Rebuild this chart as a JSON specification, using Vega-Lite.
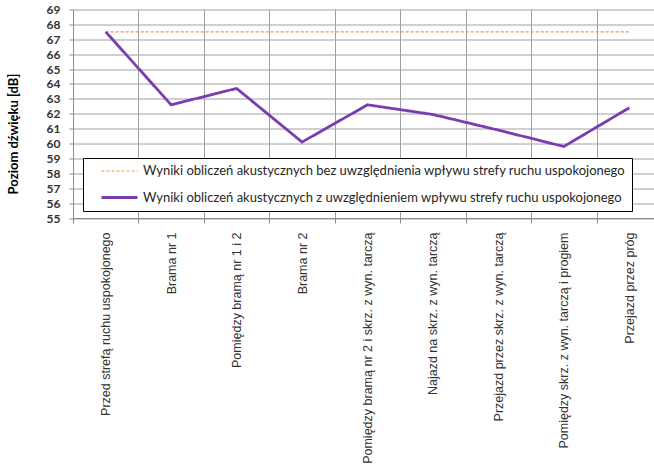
{
  "$schema": "https://vega.github.io/schema/vega-lite/v6.json",
  "width": 581,
  "height": 208.5,
  "autosize": "none",
  "padding": {"left": 73, "top": 9.5, "right": 0, "bottom": 250},
  "background": "white",
  "config": {"view": {"stroke": null}},
  "data": {
    "values": [
      {"punkt": "Przed strefą ruchu uspokojonego", "seria": "Wyniki obliczeń akustycznych bez uwzględnienia wpływu strefy ruchu uspokojonego", "poziom": 67.5},
      {"punkt": "Brama nr 1", "seria": "Wyniki obliczeń akustycznych bez uwzględnienia wpływu strefy ruchu uspokojonego", "poziom": 67.5},
      {"punkt": "Pomiędzy bramą nr 1 i 2", "seria": "Wyniki obliczeń akustycznych bez uwzględnienia wpływu strefy ruchu uspokojonego", "poziom": 67.5},
      {"punkt": "Brama nr 2", "seria": "Wyniki obliczeń akustycznych bez uwzględnienia wpływu strefy ruchu uspokojonego", "poziom": 67.5},
      {"punkt": "Pomiędzy bramą nr 2 i skrz. z wyn. tarczą", "seria": "Wyniki obliczeń akustycznych bez uwzględnienia wpływu strefy ruchu uspokojonego", "poziom": 67.5},
      {"punkt": "Najazd na skrz. z wyn. tarczą", "seria": "Wyniki obliczeń akustycznych bez uwzględnienia wpływu strefy ruchu uspokojonego", "poziom": 67.5},
      {"punkt": "Przejazd przez skrz. z wyn. tarczą", "seria": "Wyniki obliczeń akustycznych bez uwzględnienia wpływu strefy ruchu uspokojonego", "poziom": 67.5},
      {"punkt": "Pomiędzy skrz. z wyn. tarczą i progiem", "seria": "Wyniki obliczeń akustycznych bez uwzględnienia wpływu strefy ruchu uspokojonego", "poziom": 67.5},
      {"punkt": "Przejazd przez próg", "seria": "Wyniki obliczeń akustycznych bez uwzględnienia wpływu strefy ruchu uspokojonego", "poziom": 67.5},
      {"punkt": "Przed strefą ruchu uspokojonego", "seria": "Wyniki obliczeń akustycznych z uwzględnieniem wpływu strefy ruchu uspokojonego", "poziom": 67.5},
      {"punkt": "Brama nr 1", "seria": "Wyniki obliczeń akustycznych z uwzględnieniem wpływu strefy ruchu uspokojonego", "poziom": 62.6},
      {"punkt": "Pomiędzy bramą nr 1 i 2", "seria": "Wyniki obliczeń akustycznych z uwzględnieniem wpływu strefy ruchu uspokojonego", "poziom": 63.7},
      {"punkt": "Brama nr 2", "seria": "Wyniki obliczeń akustycznych z uwzględnieniem wpływu strefy ruchu uspokojonego", "poziom": 60.1},
      {"punkt": "Pomiędzy bramą nr 2 i skrz. z wyn. tarczą", "seria": "Wyniki obliczeń akustycznych z uwzględnieniem wpływu strefy ruchu uspokojonego", "poziom": 62.6},
      {"punkt": "Najazd na skrz. z wyn. tarczą", "seria": "Wyniki obliczeń akustycznych z uwzględnieniem wpływu strefy ruchu uspokojonego", "poziom": 61.95},
      {"punkt": "Przejazd przez skrz. z wyn. tarczą", "seria": "Wyniki obliczeń akustycznych z uwzględnieniem wpływu strefy ruchu uspokojonego", "poziom": 60.9},
      {"punkt": "Pomiędzy skrz. z wyn. tarczą i progiem", "seria": "Wyniki obliczeń akustycznych z uwzględnieniem wpływu strefy ruchu uspokojonego", "poziom": 59.8},
      {"punkt": "Przejazd przez próg", "seria": "Wyniki obliczeń akustycznych z uwzględnieniem wpływu strefy ruchu uspokojonego", "poziom": 62.4}
    ]
  },
  "mark": {"type": "line"},
  "encoding": {
    "x": {
      "field": "punkt",
      "type": "nominal",
      "sort": null,
      "scale": {"type": "band", "range": [0, 589], "paddingInner": 0, "paddingOuter": 0},
      "axis": {
        "title": null,
        "tickBand": "extent",
        "grid": true,
        "gridColor": "#a0a0a0",
        "domainColor": "#8c8c8c",
        "tickColor": "#8c8c8c",
        "tickSize": 5,
        "labelAngle": -90,
        "labelAlign": "right",
        "labelBaseline": "middle",
        "labelPadding": 9,
        "labelFont": "Liberation Sans",
        "labelFontSize": 12.5,
        "labelColor": "#333333",
        "labelLimit": 300
      }
    },
    "y": {
      "field": "poziom",
      "type": "quantitative",
      "scale": {"domain": [55, 69], "nice": false, "zero": false},
      "axis": {
        "values": [55, 56, 57, 58, 59, 60, 61, 62, 63, 64, 65, 66, 67, 68, 69],
        "grid": true,
        "gridColor": "#a0a0a0",
        "domainColor": "#8c8c8c",
        "tickColor": "#8c8c8c",
        "tickSize": 4,
        "labelPadding": 9,
        "labelFont": "Lato",
        "labelFontSize": 12,
        "labelFontWeight": "bold",
        "labelColor": "#333333",
        "title": "Poziom dźwięku [dB]",
        "titleFont": "Lato",
        "titleFontSize": 13,
        "titleFontWeight": "bold",
        "titleColor": "#000000",
        "titleAngle": -90,
        "titleAlign": "center",
        "titleBaseline": "middle",
        "titleX": -60,
        "titleY": 124
      }
    },
    "color": {
      "field": "seria",
      "type": "nominal",
      "scale": {
        "domain": ["Wyniki obliczeń akustycznych bez uwzględnienia wpływu strefy ruchu uspokojonego", "Wyniki obliczeń akustycznych z uwzględnieniem wpływu strefy ruchu uspokojonego"],
        "range": ["#F79646", "#7A3DB0"]
      },
      "legend": {
        "orient": "none",
        "legendX": 10,
        "legendY": 148.5,
        "title": null,
        "strokeColor": "#000000",
        "fillColor": "#ffffff",
        "padding": 6,
        "symbolOffset": 23,
        "symbolType": "M-3,0H3",
        "symbolSize": 144,
        "labelOffset": 16,
        "labelFont": "Lato",
        "labelFontSize": 13,
        "labelColor": "#262626",
        "labelLimit": 1000,
        "rowPadding": 12
      }
    },
    "strokeDash": {
      "field": "seria",
      "type": "nominal",
      "scale": {
        "domain": ["Wyniki obliczeń akustycznych bez uwzględnienia wpływu strefy ruchu uspokojonego", "Wyniki obliczeń akustycznych z uwzględnieniem wpływu strefy ruchu uspokojonego"],
        "range": [[3, 2], [1, 0]]
      }
    },
    "strokeWidth": {
      "field": "seria",
      "type": "nominal",
      "scale": {
        "domain": ["Wyniki obliczeń akustycznych bez uwzględnienia wpływu strefy ruchu uspokojonego", "Wyniki obliczeń akustycznych z uwzględnieniem wpływu strefy ruchu uspokojonego"],
        "range": [1.2, 2.8]
      }
    }
  }
}
